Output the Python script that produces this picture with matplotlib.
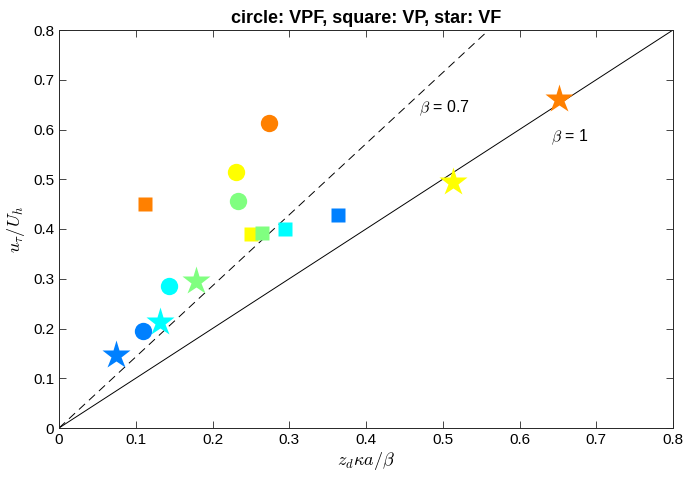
import matplotlib
matplotlib.use("Agg")
import matplotlib.pyplot as plt
import numpy as np

plt.rcParams['font.family'] = ['Liberation Sans', 'DejaVu Sans']
plt.rcParams['mathtext.fontset'] = 'cm'

colors = ['#FF8000', '#FFFF00', '#80FF80', '#00FFFF', '#0080FF']

# circle: VPF
vpf_x = [0.273, 0.231, 0.233, 0.143, 0.109]
vpf_y = [0.613, 0.514, 0.457, 0.286, 0.194]
# square: VP
vp_x = [0.112, 0.250, 0.265, 0.295, 0.363]
vp_y = [0.451, 0.389, 0.391, 0.399, 0.429]
# star: VF
vf_x = [0.652, 0.513, 0.178, 0.132, 0.074]
vf_y = [0.661, 0.494, 0.295, 0.213, 0.147]

betas = [1.0, 0.7]
line_x_end = [0.8, 0.56]

fig = plt.figure(figsize=(6.84, 4.79), dpi=100)
ax = fig.add_axes([59/684, 51/479, 614/684, 398/479])

# reference lines
ax.plot([0, line_x_end[0]], [0, line_x_end[0] / betas[0]], color='black', lw=0.7)
ax.plot([0, line_x_end[1]], [0, line_x_end[1] / betas[1]], color='black', lw=0.7,
        dashes=(8.5, 5.5))

for i, c in enumerate(colors):
    ax.plot(vpf_x[i], vpf_y[i], 'o', color=c, ms=12.5, mec='none')
for i, c in enumerate(colors):
    ax.plot(vp_x[i], vp_y[i], 's', color=c, ms=10, mec='none')
for i, c in enumerate(colors):
    ax.plot(vf_x[i], vf_y[i], '*', color=c, ms=21, mec='none')

ax.text(0.469, 0.643, r'$\beta$ = 0.7', fontsize=11.5, va='center', ha='left')
ax.text(0.641, 0.584, r'$\beta$ = 1', fontsize=11.5, va='center', ha='left')

ax.set_xlim(0, 0.8)
ax.set_ylim(0, 0.8)
ticks = np.round(np.arange(0, 0.81, 0.1), 1)
ticklabels = ['0', '0.1', '0.2', '0.3', '0.4', '0.5', '0.6', '0.7', '0.8']
ax.set_xticks(ticks)
ax.set_xticklabels(ticklabels)
ax.set_yticks(ticks)
ax.set_yticklabels(ticklabels)
ax.tick_params(direction='in', top=True, right=True, labelsize=11, length=5,
               width=0.6, colors='#262626', labelcolor='black')
for s in ax.spines.values():
    s.set_linewidth(0.7)
    s.set_color('#262626')

ax.set_xlabel(r'$z_d\kappa a/\beta$', fontsize=13, labelpad=2)
ax.set_ylabel(r'$u_\tau/U_h$', fontsize=13, labelpad=4)
ax.set_title('circle: VPF, square: VP, star: VF', fontsize=13, fontweight='bold', pad=5)

fig.savefig('out.png', dpi=100)
